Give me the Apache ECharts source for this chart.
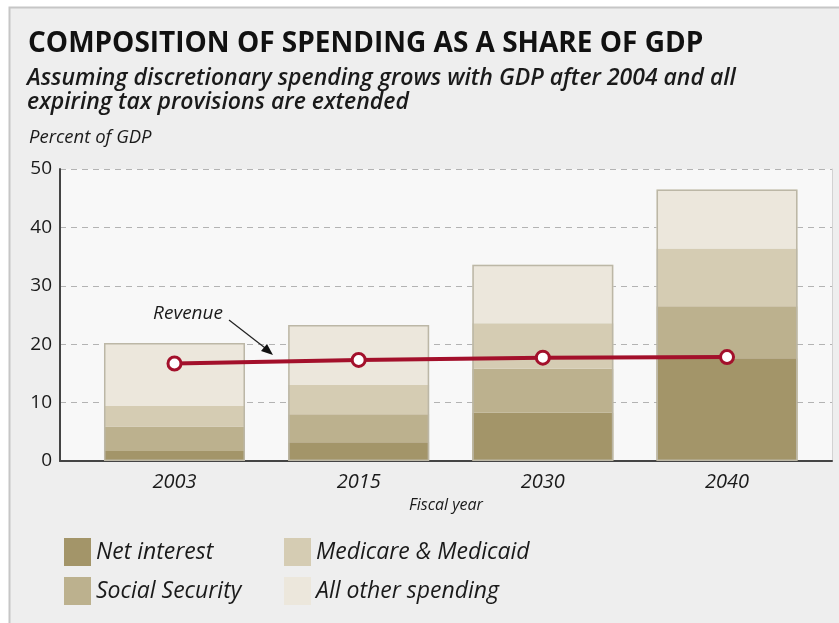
<!DOCTYPE html>
<html>
<head>
<meta charset="utf-8">
<script src="https://cdn.jsdelivr.net/npm/echarts@6/dist/echarts.min.js"></script>
<style>
html,body{margin:0;padding:0;background:#ffffff;}
#chart{width:839px;height:623px;}
</style>
</head>
<body>
<div id="chart"></div>
<script>
const categories = ['2003', '2015', '2030', '2040'];
const netInterest = [1.7, 3.2, 8.3, 17.6];
const socialSecurity = [4.2, 4.8, 7.5, 8.9];
const medicareMedicaid = [3.5, 5.0, 7.8, 9.9];
const otherSpending = [10.8, 10.3, 10.0, 10.1];
const revenue = [16.7, 17.3, 17.7, 17.8];
const yTickStep = 10;
const yMax = 50;

const totals = categories.map((c, i) => +(netInterest[i] + socialSecurity[i] + medicareMedicaid[i] + otherSpending[i]).toFixed(2));

const FONT = '"Open Sans"';
const colors = {
  ni: '#a39569', ss: '#bcb18e', mm: '#d5ccb3', other: '#ece7dc', rev: '#a3102b'
};

const chart = echarts.init(document.getElementById('chart'), null, {renderer: 'canvas'});

const gridTop = 169, gridBottom = 623 - 461;
const barW = 141;

const option = {
  backgroundColor: '#ffffff',
  animation: false,
  textStyle: {fontFamily: FONT},
  title: [
    {text: 'COMPOSITION OF SPENDING AS A SHARE OF GDP', left: 23, top: 25,
     textStyle: {fontFamily: FONT, fontSize: 28, fontWeight: 'bold', color: '#111'}},
    {text: 'Assuming discretionary spending grows with GDP after 2004 and all\nexpiring tax provisions are extended', left: 22, top: 61,
     textStyle: {fontFamily: FONT, fontSize: 23, fontStyle: 'italic', fontWeight: 600, color: '#1a1a1a', lineHeight: 24}},
    {text: 'Percent of GDP', left: 24, top: 123,
     textStyle: {fontFamily: FONT, fontSize: 18.5, fontStyle: 'italic', fontWeight: 'normal', color: '#1a1a1a'}}
  ],
  graphic: [
    {type: 'rect', z: -10, shape: {x: 9.5, y: 7.5, width: 840, height: 630},
     style: {fill: '#eeeeee', stroke: '#c6c6c6', lineWidth: 2}},
    {type: 'text', z: 10, x: 188, y: 314,
     style: {text: 'Revenue', x: 0, y: 0, align: 'center', verticalAlign: 'middle', fill: '#1a1a1a',
             font: 'italic 19px "Open Sans"'}},
    {type: 'line', z: 10, shape: {x1: 229, y1: 320, x2: 269, y2: 351},
     style: {stroke: '#222', lineWidth: 1.2}},
    {type: 'polygon', z: 10, shape: {points: [[273, 355], [261, 351], [267, 344]]},
     style: {fill: '#111'}}
  ],
  legend: [
    {orient: 'vertical', left: 59, top: 533, itemWidth: 27, itemHeight: 28, itemGap: 11, icon: 'rect',
     selectedMode: false,
     data: ['Net interest', 'Social Security'],
     textStyle: {fontFamily: FONT, fontSize: 23, fontStyle: 'italic', color: '#1a1a1a', padding: [0, 0, 0, 0]}},
    {orient: 'vertical', left: 279, top: 533, itemWidth: 27, itemHeight: 28, itemGap: 11, icon: 'rect',
     selectedMode: false,
     data: ['Medicare & Medicaid', 'All other spending'],
     textStyle: {fontFamily: FONT, fontSize: 23, fontStyle: 'italic', color: '#1a1a1a', padding: [0, 0, 0, 0]}}
  ],
  grid: [
    {left: 60, right: 7, top: gridTop, bottom: gridBottom, show: true, backgroundColor: '#f8f8f8', borderWidth: 0},
    {left: 82.4, right: 19.9, top: gridTop, bottom: gridBottom}
  ],
  xAxis: [
    {gridIndex: 0, type: 'value', min: 0, max: 1, position: 'bottom',
     axisLine: {show: true, onZero: false, lineStyle: {color: '#444', width: 2}},
     axisTick: {show: false}, axisLabel: {show: false}, splitLine: {show: false},
     name: 'Fiscal year', nameLocation: 'middle', nameGap: 36,
     nameTextStyle: {fontFamily: FONT, fontSize: 16, fontStyle: 'italic', color: '#1a1a1a'}},
    {gridIndex: 1, type: 'category', data: categories,
     axisLine: {show: false}, axisTick: {show: false},
     axisLabel: {margin: 11, fontFamily: FONT, fontSize: 20, fontStyle: 'italic', color: '#1a1a1a'}}
  ],
  yAxis: [
    {gridIndex: 0, type: 'value', min: 0, max: yMax, interval: yTickStep,
     axisLine: {show: true, lineStyle: {color: '#444', width: 2}},
     axisTick: {show: false},
     axisLabel: {margin: 8, fontFamily: FONT, fontSize: 19, color: '#1a1a1a'},
     splitLine: {show: true, lineStyle: {color: '#b3b3b3', type: [6, 5], width: 1}}},
    {gridIndex: 0, type: 'value', min: 0, max: yMax, interval: yTickStep, position: 'right',
     axisLine: {show: true, lineStyle: {color: '#d2d2d2', width: 1}},
     axisTick: {show: false}, axisLabel: {show: false}, splitLine: {show: false}},
    {gridIndex: 1, type: 'value', min: 0, max: yMax, interval: yTickStep, show: false,
     splitLine: {show: false}}
  ],
  series: [
    {name: 'Net interest', type: 'bar', stack: 'spend', xAxisIndex: 1, yAxisIndex: 2, barWidth: barW,
     data: netInterest, itemStyle: {color: colors.ni}},
    {name: 'Social Security', type: 'bar', stack: 'spend', xAxisIndex: 1, yAxisIndex: 2, barWidth: barW,
     data: socialSecurity, itemStyle: {color: colors.ss}},
    {name: 'Medicare & Medicaid', type: 'bar', stack: 'spend', xAxisIndex: 1, yAxisIndex: 2, barWidth: barW,
     data: medicareMedicaid, itemStyle: {color: colors.mm}},
    {name: 'All other spending', type: 'bar', stack: 'spend', xAxisIndex: 1, yAxisIndex: 2, barWidth: barW,
     data: otherSpending, itemStyle: {color: colors.other}},
    {name: 'Total outline', type: 'bar', xAxisIndex: 1, yAxisIndex: 2, barWidth: barW, barGap: '-100%',
     data: totals, z: 3, silent: true,
     itemStyle: {color: 'rgba(0,0,0,0)', borderColor: '#bcb7a6', borderWidth: 1.5}},
    {name: 'Revenue', type: 'line', xAxisIndex: 1, yAxisIndex: 2, data: revenue, z: 5,
     symbol: 'circle', symbolSize: 13,
     lineStyle: {color: colors.rev, width: 4},
     itemStyle: {color: '#ffffff', borderColor: colors.rev, borderWidth: 3}}
  ]
};
chart.setOption(option);
</script>
</body>
</html>
